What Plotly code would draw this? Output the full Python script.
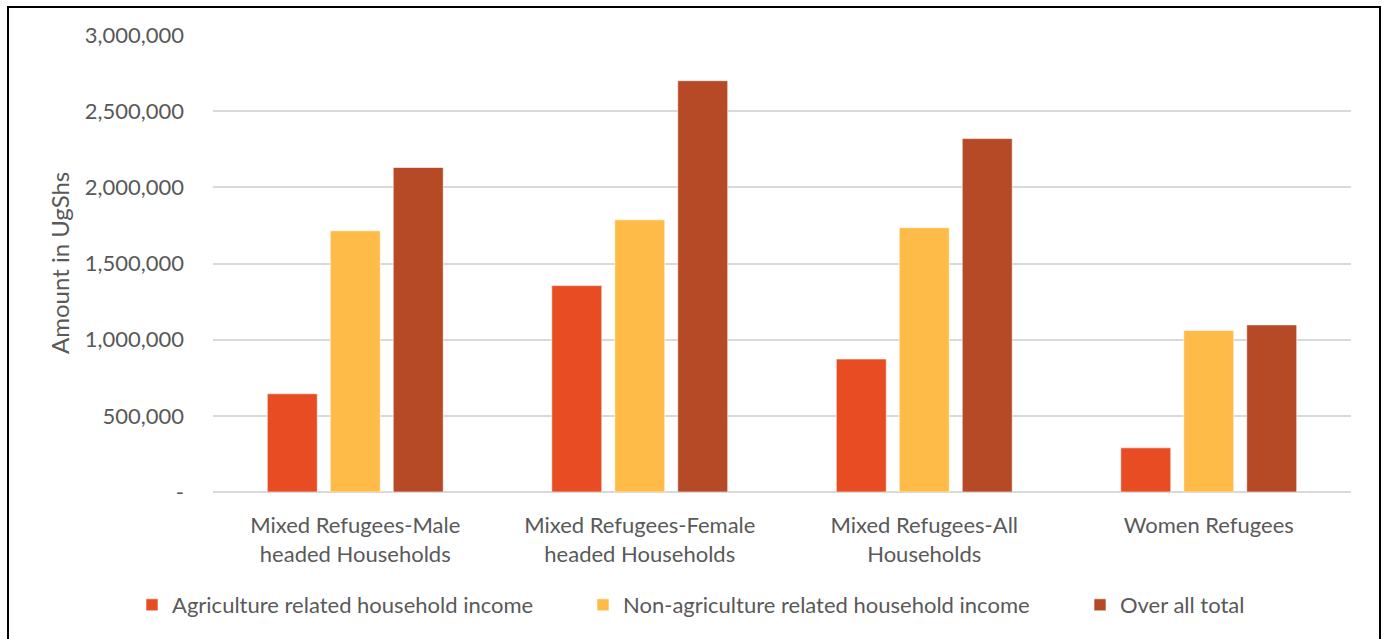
import plotly.graph_objects as go

categories = [
    "Mixed Refugees-Male<br>headed Households",
    "Mixed Refugees-Female<br>headed Households",
    "Mixed Refugees-All<br>Households",
    "Women Refugees",
]
agri = [645000, 1355000, 873000, 290000]
non_agri = [1715000, 1787000, 1735000, 1060000]
total = [2130000, 2700000, 2320000, 1097000]

series_names = [
    "Agriculture related household income",
    "Non-agriculture related household income",
    "Over all total",
]
series_colors = ["#E84C22", "#FFBB47", "#B64926"]

tick_vals = [0, 500000, 1000000, 1500000, 2000000, 2500000, 3000000]
tick_text = ["-", "500,000", "1,000,000", "1,500,000", "2,000,000", "2,500,000", "3,000,000"]

FONT = "Lato, Carlito, Calibri, Open Sans, sans-serif"
TXT = "#595959"
FS = 22

W, H = 1387, 639
L, R, T, B = 213, 36, 35, 147
pw = W - L - R
ph = H - T - B


def px_x(x):
    return (x - L) / pw


def px_y(y):
    return (H - B - y) / ph


legend_ids = ["legend", "legend2", "legend3"]
legend_text_x = [172, 623, 1120]

fig = go.Figure()
for name, vals, col, lid in zip(series_names, [agri, non_agri, total], series_colors, legend_ids):
    fig.add_trace(go.Bar(
        x=categories, y=vals, name=name, legend=lid,
        marker=dict(color=col, line=dict(color="rgba(255,255,255,0.6)", width=1)),
    ))

legend_layout = {}
for lid, tx in zip(legend_ids, legend_text_x):
    legend_layout[lid] = dict(
        orientation="h", x=px_x(tx - 40), xanchor="left", y=px_y(605), yanchor="middle",
        font=dict(family=FONT, size=FS, color=TXT), bgcolor="rgba(0,0,0,0)",
        itemclick=False, itemdoubleclick=False,
    )

fig.update_layout(
    width=W, height=H,
    margin=dict(l=L, r=R, t=T, b=B),
    paper_bgcolor="white", plot_bgcolor="white",
    barmode="group", bargap=0.336, bargroupgap=0.206,
    font=dict(family=FONT, size=FS, color=TXT),
    showlegend=True,
    xaxis=dict(
        showgrid=False, showline=False, ticks="", ticklabelstandoff=18,
        tickfont=dict(family=FONT, size=FS, color=TXT),
        fixedrange=True,
    ),
    yaxis=dict(
        range=[0, 3000000], tickvals=tick_vals, ticktext=tick_text,
        showgrid=True, gridcolor="#D9D9D9", gridwidth=1.5,
        zeroline=True, zerolinecolor="#D9D9D9", zerolinewidth=1.5,
        showline=False, ticks="", ticklabelstandoff=28,
        tickfont=dict(family=FONT, size=FS, color=TXT),
        fixedrange=True,
    ),
    annotations=[dict(
        text="Amount in UgShs", textangle=-90, showarrow=False,
        xref="paper", yref="paper", x=px_x(59), y=px_y(263),
        xanchor="center", yanchor="middle",
        font=dict(family=FONT, size=24, color=TXT),
    )],
    shapes=[dict(
        type="rect", xref="paper", yref="paper",
        x0=px_x(8), x1=px_x(1380), y0=px_y(660), y1=px_y(7),
        line=dict(color="black", width=2), fillcolor="rgba(0,0,0,0)", layer="above",
    )],
    **legend_layout,
)

fig.write_html("out.html")
